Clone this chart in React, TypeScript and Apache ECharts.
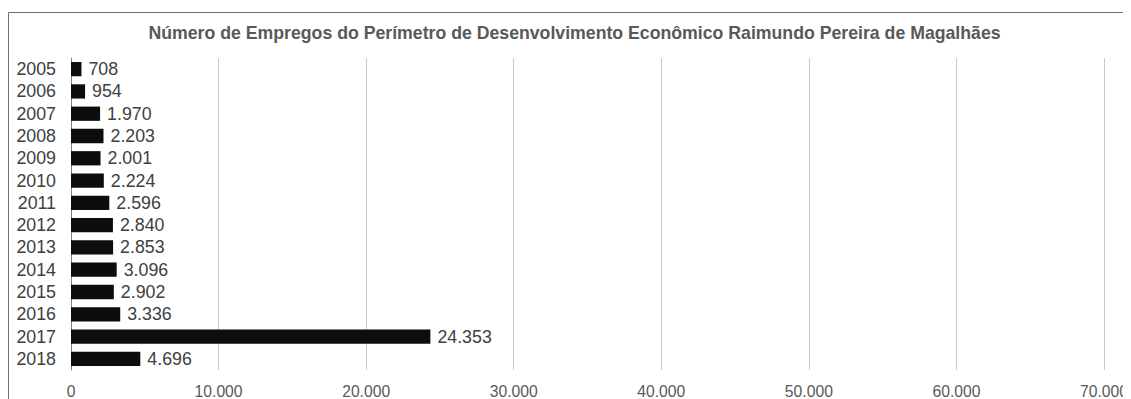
import React, { useEffect, useRef } from "react";
import * as echarts from "echarts";

const years = ["2005", "2006", "2007", "2008", "2009", "2010", "2011", "2012", "2013", "2014", "2015", "2016", "2017", "2018"];
const empregos = [708, 954, 1970, 2203, 2001, 2224, 2596, 2840, 2853, 3096, 2902, 3336, 24353, 4696];
const titleText = "Número de Empregos do Perímetro de Desenvolvimento Econômico Raimundo Pereira de Magalhães";

const FONT = "'Liberation Sans', Arial, sans-serif";
const fmt = (v: number) => String(Math.round(v)).replace(/\B(?=(\d{3})+(?!\d))/g, ".");

export default function App() {
  const ref = useRef<HTMLDivElement>(null);
  useEffect(() => {
    if (!ref.current) return;
    const chart = echarts.init(ref.current, null, { renderer: "svg" });
    chart.setOption({
      animation: false,
      backgroundColor: "#ffffff",
      textStyle: { fontFamily: FONT },
      graphic: [
        {
          type: "rect",
          shape: { x: 0.5, y: 4.5, width: 1200, height: 500 },
          style: { fill: "none", stroke: "#6e6e6e", lineWidth: 1 },
          silent: true,
        },
        {
          type: "text",
          x: 566.5,
          y: 24.5,
          silent: true,
          style: {
            text: titleText,
            fill: "#595959",
            font: "bold 17.7px " + FONT,
            textAlign: "center",
            textVerticalAlign: "middle",
          },
        },
      ],
      grid: { left: 63, right: 27, top: 50, bottom: 28, containLabel: false },
      xAxis: {
        type: "value",
        min: 0,
        max: 70000,
        interval: 10000,
        axisLine: { show: false },
        axisTick: { show: false },
        splitLine: { show: true, lineStyle: { color: "#c8c8c8", width: 1 } },
        axisLabel: { color: "#595959", fontSize: 15.7, margin: 13, fontFamily: FONT, formatter: (v: number) => fmt(v) },
      },
      yAxis: {
        type: "category",
        data: years,
        inverse: true,
        axisLine: { show: true, lineStyle: { color: "#808080", width: 1 } },
        axisTick: { show: false },
        axisLabel: { color: "#404040", fontSize: 17.8, margin: 15, interval: 0, fontFamily: FONT },
      },
      series: [
        {
          type: "bar",
          data: empregos,
          barWidth: "64%",
          itemStyle: { color: "#0d0d0d" },
          label: {
            show: true,
            position: "right",
            distance: 7,
            color: "#404040",
            fontSize: 17.8,
            fontFamily: FONT,
            formatter: (p: any) => fmt(p.value),
          },
        },
      ],
    });
    return () => chart.dispose();
  }, []);
  return <div ref={ref} style={{ width: 1123, height: 391 }} />;
}
